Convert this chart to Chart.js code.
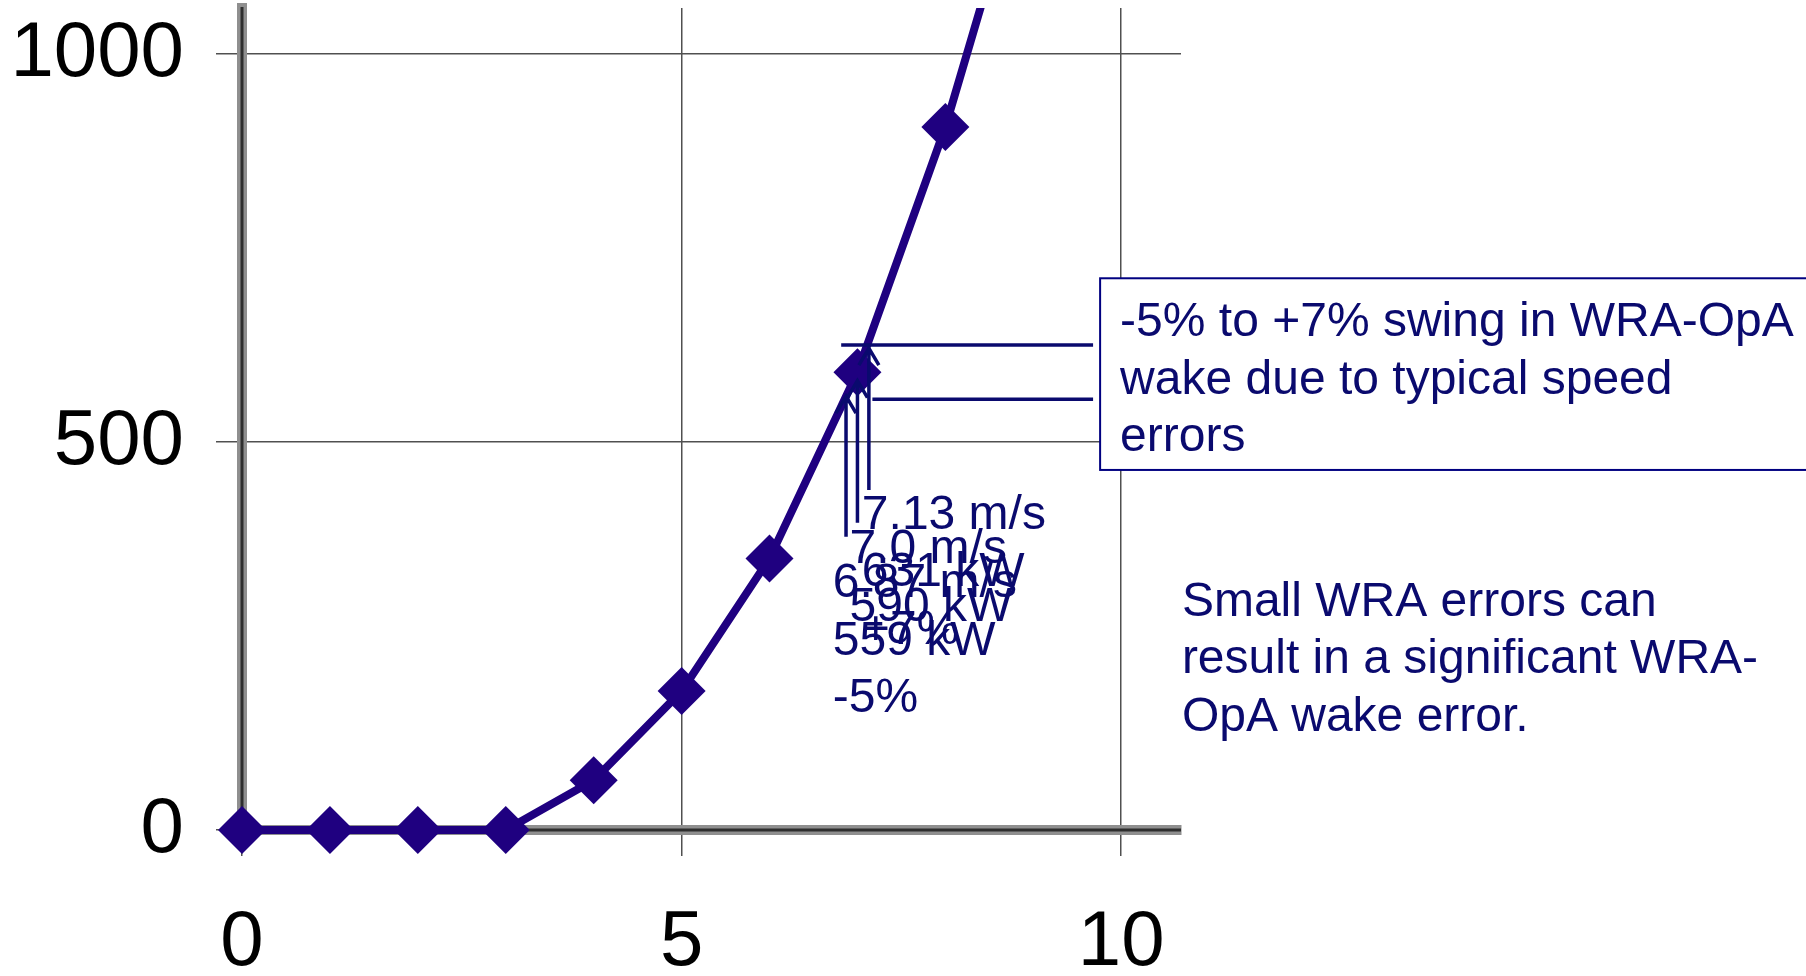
<!DOCTYPE html>
<html><head><meta charset="UTF-8">
<title>WRA-OpA wake swing</title>
<script src="https://cdn.jsdelivr.net/npm/chart.js@4.4.0/dist/chart.umd.min.js"></script>
<style>
body { margin: 0; background: #fff; }
canvas { display: block; }
</style>
</head>
<body>
<canvas id="power-chart" width="1806" height="976"></canvas>
<script>
// power curve: kW against wind speed (m/s)
var windSpeed = [0, 1, 2, 3, 4, 5, 6, 7, 8, 9];
var powerKW = [0, 0, 0, 0, 64, 179, 350, 590, 906, 1290];
var xTicks = [0, 5, 10];
var yTicks = [0, 500, 1000];

// speed error callouts: -5%, base, +7%
var errSpeed = [6.87, 7.0, 7.13];
var errTipKW = [559, 579, 621];
var errTailKW = [378, 396, 438];
var errLabelX = [6.72, 6.91, 7.05];
var errLabelKW = [300, 344, 388];
var errLines = [
  ['6.87 m/s', '559 kW', '-5%'],
  ['7.0 m/s', '590 kW'],
  ['7.13 m/s', '631 kW', '+7%']
];
var swingKW = [625, 555];
var swingFrom = [6.815, 7.17];
var swingTo = 9.68;

var boxText = ['-5% to +7% swing in WRA-OpA', 'wake due to typical speed', 'errors'];
var noteText = ['Small WRA errors can', 'result in a significant WRA-', 'OpA wake error.'];

var navy = '#0a0a6e';
var curveColor = '#1f0080';
var family = '"Liberation Sans", Arial, sans-serif';
var lineGap = 57.5;

var notes = {
  id: 'notes',
  beforeDatasetsDraw: function(chart) {
    // dark centre of the thick grey axes
    var ctx = chart.ctx, a = chart.chartArea;
    var x0 = chart.scales.x.getPixelForValue(0), y0 = chart.scales.y.getPixelForValue(0);
    ctx.save();
    ctx.strokeStyle = '#2e2e2e';
    ctx.lineWidth = 3;
    ctx.beginPath();
    ctx.moveTo(a.left - 5, y0); ctx.lineTo(a.right, y0);
    ctx.moveTo(x0, a.top - 1); ctx.lineTo(x0, a.bottom);
    ctx.stroke();
    ctx.restore();
  },
  afterDraw: function(chart) {
    var ctx = chart.ctx, x = chart.scales.x, y = chart.scales.y;
    ctx.save();
    ctx.font = '48px ' + family;
    ctx.textBaseline = 'alphabetic';

    // text box on the right
    var bl = x.getPixelForValue(9.76), bt = y.getPixelForValue(711), bb = y.getPixelForValue(464);
    ctx.fillStyle = '#fff';
    ctx.fillRect(bl, bt, chart.width + 10 - bl, bb - bt);
    ctx.strokeStyle = '#000080';
    ctx.lineWidth = 2;
    ctx.strokeRect(bl, bt, chart.width + 10 - bl, bb - bt);
    ctx.fillStyle = navy;
    boxText.forEach(function(t, j) {
      ctx.fillText(t, bl + 20, bt + 58 + j * lineGap);
    });

    ctx.strokeStyle = navy;
    ctx.lineWidth = 3.5;
    // swing level lines
    swingKW.forEach(function(v, i) {
      var py = y.getPixelForValue(v);
      ctx.beginPath();
      ctx.moveTo(x.getPixelForValue(swingFrom[i]), py);
      ctx.lineTo(x.getPixelForValue(swingTo), py);
      ctx.stroke();
    });
    // arrows up to the curve
    errSpeed.forEach(function(s, i) {
      var px = x.getPixelForValue(s);
      var tip = y.getPixelForValue(errTipKW[i]), tail = y.getPixelForValue(errTailKW[i]);
      ctx.beginPath();
      ctx.moveTo(px, tail); ctx.lineTo(px, tip);
      ctx.moveTo(px - 10, tip + 17); ctx.lineTo(px, tip); ctx.lineTo(px + 10, tip + 17);
      ctx.stroke();
    });
    // callout labels
    errLines.forEach(function(lines, i) {
      var lx = x.getPixelForValue(errLabelX[i]), ly = y.getPixelForValue(errLabelKW[i]);
      lines.forEach(function(t, j) { ctx.fillText(t, lx, ly + j * lineGap); });
    });
    // note below the box
    var nx = x.getPixelForValue(10.69), ny = y.getPixelForValue(275.8);
    noteText.forEach(function(t, j) { ctx.fillText(t, nx, ny + j * lineGap); });
    ctx.restore();
  }
};

new Chart(document.getElementById('power-chart'), {
  type: 'line',
  data: {
    datasets: [{
      data: windSpeed.map(function(s, i) { return {x: s, y: powerKW[i]}; }),
      borderColor: curveColor,
      backgroundColor: curveColor,
      borderWidth: 8,
      tension: 0,
      fill: false,
      pointStyle: 'rectRot',
      pointRadius: 24,
      pointBorderWidth: 0,
      pointBackgroundColor: curveColor,
      clip: {left: 40, top: 0, right: 0, bottom: 40}
    }]
  },
  options: {
    responsive: false,
    animation: false,
    events: [],
    layout: { autoPadding: false, padding: {left: 0, top: 8, right: 625, bottom: 0} },
    plugins: { legend: {display: false}, tooltip: {enabled: false} },
    scales: {
      x: {
        type: 'linear',
        min: 0,
        max: 10.68,
        afterBuildTicks: function(s) { s.ticks = xTicks.map(function(v) { return {value: v}; }); },
        afterFit: function(s) { s.height = 146; s.paddingLeft = 0; s.paddingRight = 0; },
        grid: { color: '#505050', lineWidth: 1.5, tickLength: 26, tickColor: '#505050' },
        border: { color: '#8f8f8f', width: 10 },
        ticks: { color: '#000', padding: 41, maxRotation: 0, autoSkip: false,
                 font: {size: 78, family: family}, callback: function(v) { return String(v); } }
      },
      y: {
        min: 0,
        max: 1059.3,
        afterBuildTicks: function(s) { s.ticks = yTicks.map(function(v) { return {value: v}; }); },
        afterFit: function(s) { s.width = 242; s.paddingTop = 0; s.paddingBottom = 0; },
        grid: { color: '#505050', lineWidth: 1.5, tickLength: 26, tickColor: '#505050' },
        border: { color: '#8f8f8f', width: 10 },
        ticks: { color: '#000', padding: 32, font: {size: 78, family: family},
                 callback: function(v) { return String(v); } }
      }
    }
  },
  plugins: [notes]
});
</script>
</body></html>
